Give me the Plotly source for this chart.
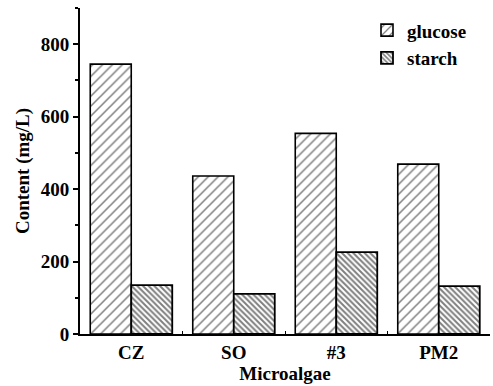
import plotly.graph_objects as go

categories = ["CZ", "SO", "#3", "PM2"]
glucose = [745, 436, 554, 469]
starch = [135, 111, 226, 132]
y_ticks = [0, 200, 400, 600, 800]

font_family = "Liberation Serif, Times New Roman, serif"
FS = 19

fig = go.Figure()
fig.add_trace(go.Bar(
    x=categories, y=glucose, name="glucose",
    marker=dict(color="white", line=dict(color="black", width=1.6),
                pattern=dict(shape="/", size=7, solidity=0.22, fgcolor="black", bgcolor="white")),
))
fig.add_trace(go.Bar(
    x=categories, y=starch, name="starch",
    marker=dict(color="white", line=dict(color="black", width=1.8),
                pattern=dict(shape="\\", size=4, solidity=0.5, fgcolor="black", bgcolor="white")),
))

fig.update_layout(
    width=493, height=386,
    margin=dict(l=80, r=3, t=8, b=52, autoexpand=False),
    paper_bgcolor="white", plot_bgcolor="white",
    barmode="group", bargap=0.2, bargroupgap=0,
    font=dict(family=font_family, size=FS, color="black", weight="bold"),
    showlegend=True,
    legend=dict(x=0.70, y=0.99, xanchor="left", yanchor="top",
                font=dict(family=font_family, size=FS, color="black", weight="bold"),
                bgcolor="rgba(0,0,0,0)", tracegroupgap=0, itemwidth=30),
    xaxis=dict(
        range=[-0.5, 3.5], showline=True, linecolor="black", linewidth=1.8,
        ticks="inside", ticklen=3, tickcolor="black", tickson="boundaries",
        showgrid=False, zeroline=False, automargin=False,
        title=dict(text="Microalgae", font=dict(size=FS, weight="bold"), standoff=0),
        tickfont=dict(size=FS, weight="bold"),
    ),
    yaxis=dict(
        range=[0, 900], showline=True, linecolor="black", linewidth=1.8,
        tickvals=y_ticks, ticks="outside", ticklen=5, tickwidth=1.5, tickcolor="black",
        minor=dict(ticks="outside", ticklen=3, dtick=100, tickcolor="black", showgrid=False),
        showgrid=False, zeroline=False, automargin=False,
        title=dict(text="Content (mg/L)", font=dict(size=FS, weight="bold"), standoff=6),
        tickfont=dict(size=FS, weight="bold"),
    ),
)

fig.write_html("out.html", config={"displayModeBar": False},
               post_script="document.body.style.margin='0';document.body.style.overflow='hidden';")
